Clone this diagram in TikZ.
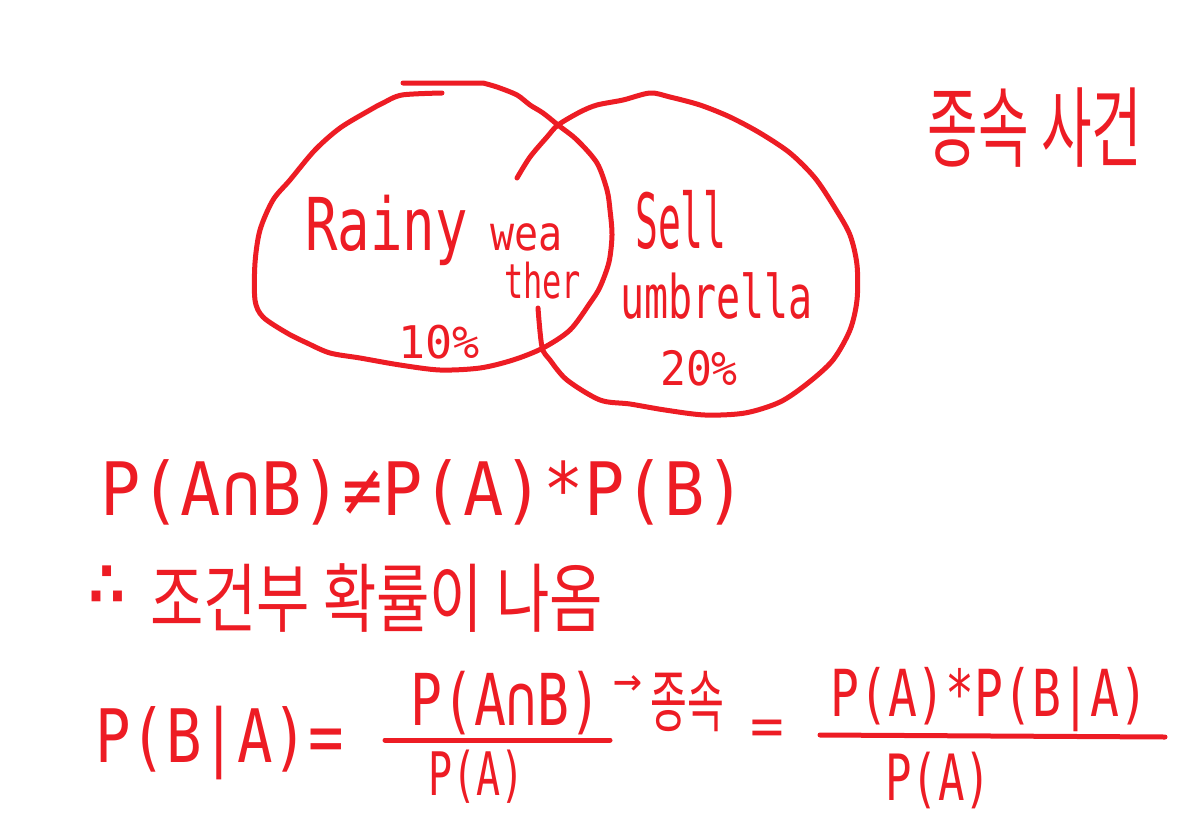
\documentclass[tikz,border=0pt]{standalone}
\usepackage{fontspec}
\setmainfont{DejaVu Sans Mono}
\newfontfamily\kofont{Noto Sans CJK KR}
\definecolor{paintred}{RGB}{237, 28, 36}
\newcommand{\tall}[2]{\scalebox{1}[#1]{#2}}
\usetikzlibrary{positioning}

\begin{document}
\begin{tikzpicture}[x=1pt, y=-1pt,
        every node/.style={text=paintred, inner sep=0pt},
        pen/.style={draw=paintred, line width=5pt, line cap=round, line join=round},
        mono/.style={font=\fontsize{#1}{#1}\selectfont},
        ko/.style={font=\kofont\fontsize{#1}{#1}\selectfont}
      ]
        \useasboundingbox (0,0) rectangle (1194,825);
        % the two sets
        \draw[pen] plot[smooth] coordinates {(442,93) (402,95) (383,103) (370,110) (340,128) (315,150)
          (290,180) (273,200) (260,230) (255,263) (255,300) (263,317) (287,333) (307,343) (330,353)
          (360,358) (400,365) (440,370) (480,368) (513,360) (543,348) (570,330) (590,303) (600,287)
          (609,262) (612,235) (610,210) (607,190) (597,163) (577,140) (558,125) (543,113) (530,105)
          (517,95) (497,87) (483,83)} -- (403,83);
        \draw[pen] plot[smooth] coordinates {(517,178) (530,157) (547,137) (558,125) (580,112) (597,105)
          (623,100) (650,93) (670,97) (700,105) (730,117) (760,133) (790,153) (815,178) (835,208)
          (850,235) (857,265) (857,300) (850,330) (833,360) (808,383) (780,402) (745,413) (705,415)
          (665,410) (630,404) (600,400) (567,380) (550,360) (542,347) (538,308)};

        \node[ko=55, anchor=center] (title) at (1035,128) {\tall{1.6}{종속 사건}};

        \node[mono=54, anchor=base west] (rainy) at (305,250) {\tall{1.35}{Rainy}};
        \node[mono=40, anchor=base west] (wea) at (490,250) {\tall{1.2}{wea}};
        \node[mono=32, anchor=base west] (ther) at (504,298) {\tall{1.5}{ther}};
        \node[mono=45, anchor=base west] (pctA) at (398,358) {10\%};

        \node[mono=38, anchor=base west] (sell) at (635,248) {\tall{2.0}{Sell}};
        \node[mono=40, anchor=base west] (umbrella) at (620,318) {\tall{1.5}{umbrella}};
        \node[mono=43, anchor=base west] (pctB) at (660,385) {\tall{1.1}{20\%}};

        \node[mono=67, anchor=base west] (ineq) at (100,515) {\tall{1.1}{P(A∩B)≠P(A)*P(B)}};
        \node[mono=72, anchor=center] (hence) at (107,586) {∴};
        \node[ko=58, anchor=west] (result) at (150,598) {\tall{1.3}{조건부 확률이 나옴}};

        \node[mono=59, anchor=base west] (lhs) at (95,762) {\tall{1.25}{P(B|A)=}};
        \node[mono=53, anchor=base west] (numA) at (410,725) {\tall{1.35}{P(A∩B)}};
        \coordinate (barAl) at (385,740);
        \coordinate (barAr) at (610,740);
        \draw[pen] (barAl) -- (barAr);
        \node[mono=40, anchor=base west] (denA) at (428,795) {\tall{1.5}{P(A)}};
        \node[mono=48, anchor=center] (arrow) at (628,686) {→};
        \node[ko=40, anchor=base west] (dep) at (650,726) {\tall{1.7}{종속}};

        \node[mono=56, anchor=center] (eq) at (767,733) {=};
        \node[mono=48, anchor=base west] (numB) at (830,716) {\tall{1.35}{P(A)*P(B|A)}};
        \coordinate (barBl) at (820,735);
        \coordinate (barBr) at (1165,737);
        \draw[pen] (barBl) -- (barBr);
        \node[mono=44, anchor=base west] (denB) at (885,800) {\tall{1.45}{P(A)}};
      \end{tikzpicture}
\end{document}
